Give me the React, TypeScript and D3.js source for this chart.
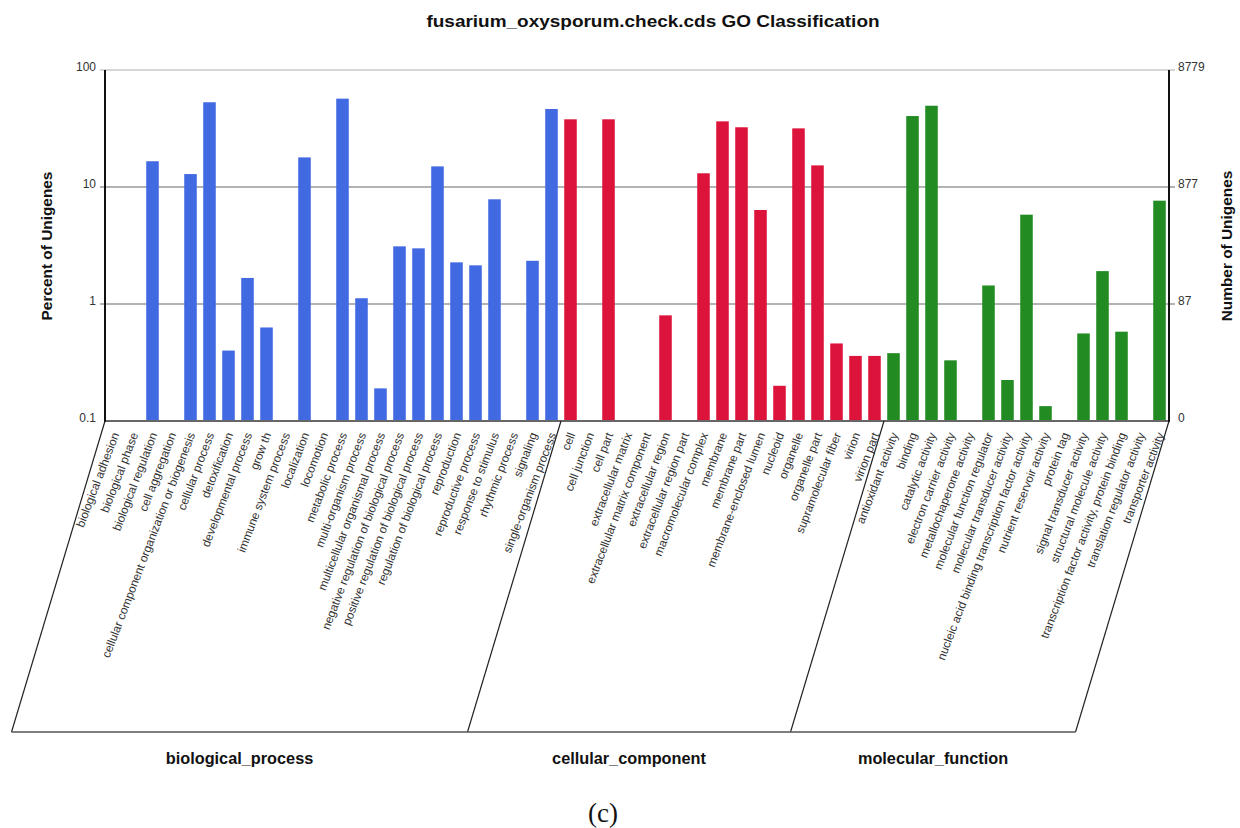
import { useEffect, useRef } from "react";
import * as d3 from "d3";

// GO terms per ontology, percent of unigenes (0 = no bar)
const bpTerms = [
  "biological adhesion",
  "biological phase",
  "biological regulation",
  "cell aggregation",
  "cellular component organization or biogenesis",
  "cellular process",
  "detoxification",
  "developmental process",
  "grow th",
  "immune system process",
  "localization",
  "locomotion",
  "metabolic process",
  "multi-organism process",
  "multicellular organismal process",
  "negative regulation of biological process",
  "positive regulation of biological process",
  "regulation of biological process",
  "reproduction",
  "reproductive process",
  "response to stimulus",
  "rhythmic process",
  "signaling",
  "single-organism process",
];
const bpValues = [
  0, 0, 16.6, 0, 12.9, 53, 0.4, 1.67, 0.63, 0, 17.9, 0, 56.9, 1.12, 0.19, 3.11,
  2.99, 15.0, 2.27, 2.14, 7.85, 0, 2.34, 46.4,
];

const ccTerms = [
  "cell",
  "cell junction",
  "cell part",
  "extracellular matrix",
  "extracellular matrix component",
  "extracellular region",
  "extracellular region part",
  "macromolecular complex",
  "membrane",
  "membrane part",
  "membrane-enclosed lumen",
  "nucleoid",
  "organelle",
  "organelle part",
  "supramolecular fiber",
  "virion",
  "virion part",
];
const ccValues = [
  37.9, 0, 37.9, 0, 0, 0.8, 0, 13.1, 36.4, 32.4, 6.36, 0.2, 31.7, 15.3, 0.46,
  0.36, 0.36,
];

const mfTerms = [
  "antioxidant activity",
  "binding",
  "catalytic activity",
  "electron carrier activity",
  "metallochaperone activity",
  "molecular function regulator",
  "molecular transducer activity",
  "nucleic acid binding transcription factor activity",
  "nutrient reservoir activity",
  "protein tag",
  "signal transducer activity",
  "structural molecule activity",
  "transcription factor activity, protein binding",
  "translation regulator activity",
  "transporter activity",
];
const mfValues = [
  0.38, 40.4, 49.5, 0.33, 0, 1.44, 0.224, 5.8, 0.134, 0, 0.56, 1.91, 0.58, 0,
  7.64,
];

const groupNames = ["biological_process", "cellular_component", "molecular_function"];
const groupColors = ["#4169E1", "#DC143C", "#228B22"];

const leftTicks = [0.1, 1, 10, 100];
const leftTickLabels = ["0.1", "1", "10", "100"];
const rightTickLabels = ["0", "87", "877", "8779"];

type Row = { term: string; value: number; group: number };

export default function App() {
  const ref = useRef<SVGSVGElement | null>(null);

  useEffect(() => {
    const width = 1240;
    const margin = { top: 70, left: 105, right: 71, axisBottom: 421 };
    const boxBottom = 732;
    const font = "'Liberation Sans', Arial, sans-serif";

    const rows: Row[] = [
      ...bpTerms.map((t, i) => ({ term: t, value: bpValues[i], group: 0 })),
      ...ccTerms.map((t, i) => ({ term: t, value: ccValues[i], group: 1 })),
      ...mfTerms.map((t, i) => ({ term: t, value: mfValues[i], group: 2 })),
    ];

    const svg = d3.select(ref.current);
    svg.selectAll("*").remove();

    const x = d3
      .scaleBand<string>()
      .domain(rows.map(d => d.term))
      .range([margin.left, width - margin.right])
      .paddingInner(0.34)
      .paddingOuter(0.17);
    const y = d3
      .scaleLog()
      .domain([0.1, 100])
      .range([margin.axisBottom, margin.top]);
    const step = x.step();
    const x0 = margin.left;
    const x1 = width - margin.right;

    // title (source is a bit wider than plain Arial, so stretch it)
    svg
      .append("text")
      .attr("transform", "translate(653,27) scale(1.15,1)")
      .attr("text-anchor", "middle")
      .attr("font-family", font)
      .attr("font-weight", "bold")
      .attr("font-size", 16.5)
      .attr("fill", "#111")
      .text("fusarium_oxysporum.check.cds GO Classification");

    // grid lines + ticks on both sides
    svg
      .append("g")
      .selectAll("line")
      .data(leftTicks.slice(1))
      .enter()
      .append("line")
      .attr("x1", x0 - 5)
      .attr("x2", x1 + 6)
      .attr("y1", d => y(d))
      .attr("y2", d => y(d))
      .attr("stroke", d => (d === 100 ? "#c8c8c8" : "#9a9a9a"))
      .attr("stroke-width", 1.3);

    // bars
    svg
      .append("g")
      .selectAll("rect")
      .data(rows.filter(d => d.value > 0))
      .enter()
      .append("rect")
      .attr("x", d => x(d.term)!)
      .attr("width", x.bandwidth())
      .attr("y", d => y(d.value))
      .attr("height", d => y(0.1) - y(d.value))
      .attr("fill", d => groupColors[d.group]);

    // bottom axis line
    svg
      .append("line")
      .attr("x1", x0)
      .attr("x2", x1)
      .attr("y1", y(0.1))
      .attr("y2", y(0.1))
      .attr("stroke", "#666")
      .attr("stroke-width", 2);

    // left / right axis lines
    [x0, x1].forEach(ax => {
      svg
        .append("line")
        .attr("x1", ax)
        .attr("x2", ax)
        .attr("y1", y(100))
        .attr("y2", y(0.1) + 1)
        .attr("stroke", "#111")
        .attr("stroke-width", 2);
    });

    // tick labels
    svg
      .append("g")
      .selectAll("text")
      .data(leftTicks)
      .enter()
      .append("text")
      .attr("x", x0 - 9)
      .attr("y", d => y(d) + 1)
      .attr("text-anchor", "end")
      .attr("font-family", font)
      .attr("font-size", 12)
      .attr("fill", "#333")
      .text((d, i) => leftTickLabels[i]);
    svg
      .append("g")
      .selectAll("text")
      .data(leftTicks)
      .enter()
      .append("text")
      .attr("x", x1 + 9)
      .attr("y", d => y(d) + 1)
      .attr("font-family", font)
      .attr("font-size", 12)
      .attr("fill", "#333")
      .text((d, i) => rightTickLabels[i]);

    // axis titles
    svg
      .append("text")
      .attr("transform", `translate(52,246) rotate(-90)`)
      .attr("text-anchor", "middle")
      .attr("font-family", font)
      .attr("font-weight", "bold")
      .attr("font-size", 15.4)
      .attr("fill", "#111")
      .text("Percent of Unigenes");
    svg
      .append("text")
      .attr("transform", `translate(1232,246) rotate(-90)`)
      .attr("text-anchor", "middle")
      .attr("font-family", font)
      .attr("font-weight", "bold")
      .attr("font-size", 15.4)
      .attr("fill", "#111")
      .text("Number of Unigenes");

    // category labels
    svg
      .append("g")
      .selectAll("text")
      .data(rows)
      .enter()
      .append("text")
      .attr(
        "transform",
        d => `translate(${x(d.term)! + x.bandwidth() / 2 + 1},${y(0.1) + 12}) rotate(-69)`
      )
      .attr("text-anchor", "end")
      .attr("dy", "0.35em")
      .attr("font-family", font)
      .attr("font-size", 11.8)
      .attr("fill", "#333")
      .text(d => d.term);

    // group boxes (slanted parallelograms)
    const slant = (y(0.1) - boxBottom) * 0.3006; // negative shift to the left
    const counts = [bpTerms.length, ccTerms.length, mfTerms.length];
    const bounds = [0];
    counts.forEach(c => bounds.push(bounds[bounds.length - 1] + c));
    bounds.forEach(b => {
      const xt = x0 + b * step;
      svg
        .append("line")
        .attr("x1", xt)
        .attr("y1", y(0.1))
        .attr("x2", xt + slant)
        .attr("y2", boxBottom)
        .attr("stroke", "#222")
        .attr("stroke-width", 1.2);
    });
    svg
      .append("line")
      .attr("x1", x0 + slant)
      .attr("x2", x1 + slant)
      .attr("y1", boxBottom)
      .attr("y2", boxBottom)
      .attr("stroke", "#555")
      .attr("stroke-width", 1.5);

    // group names
    svg
      .append("g")
      .selectAll("text")
      .data(groupNames)
      .enter()
      .append("text")
      .attr("x", (d, i) => x0 + slant + ((bounds[i] + bounds[i + 1]) / 2) * step)
      .attr("y", 764)
      .attr("text-anchor", "middle")
      .attr("font-family", font)
      .attr("font-weight", "bold")
      .attr("font-size", 16.3)
      .attr("fill", "#111")
      .text(d => d);

    // panel letter
    svg
      .append("text")
      .attr("x", 603)
      .attr("y", 822)
      .attr("text-anchor", "middle")
      .attr("font-family", "'Liberation Serif', 'DejaVu Serif', serif")
      .attr("font-size", 27)
      .attr("fill", "#111")
      .text("(c)");
  }, []);

  return (
    <svg
      ref={ref}
      width={1240}
      height={828}
      style={{ position: "absolute", left: 0, top: 0, background: "#fff" }}
    />
  );
}
